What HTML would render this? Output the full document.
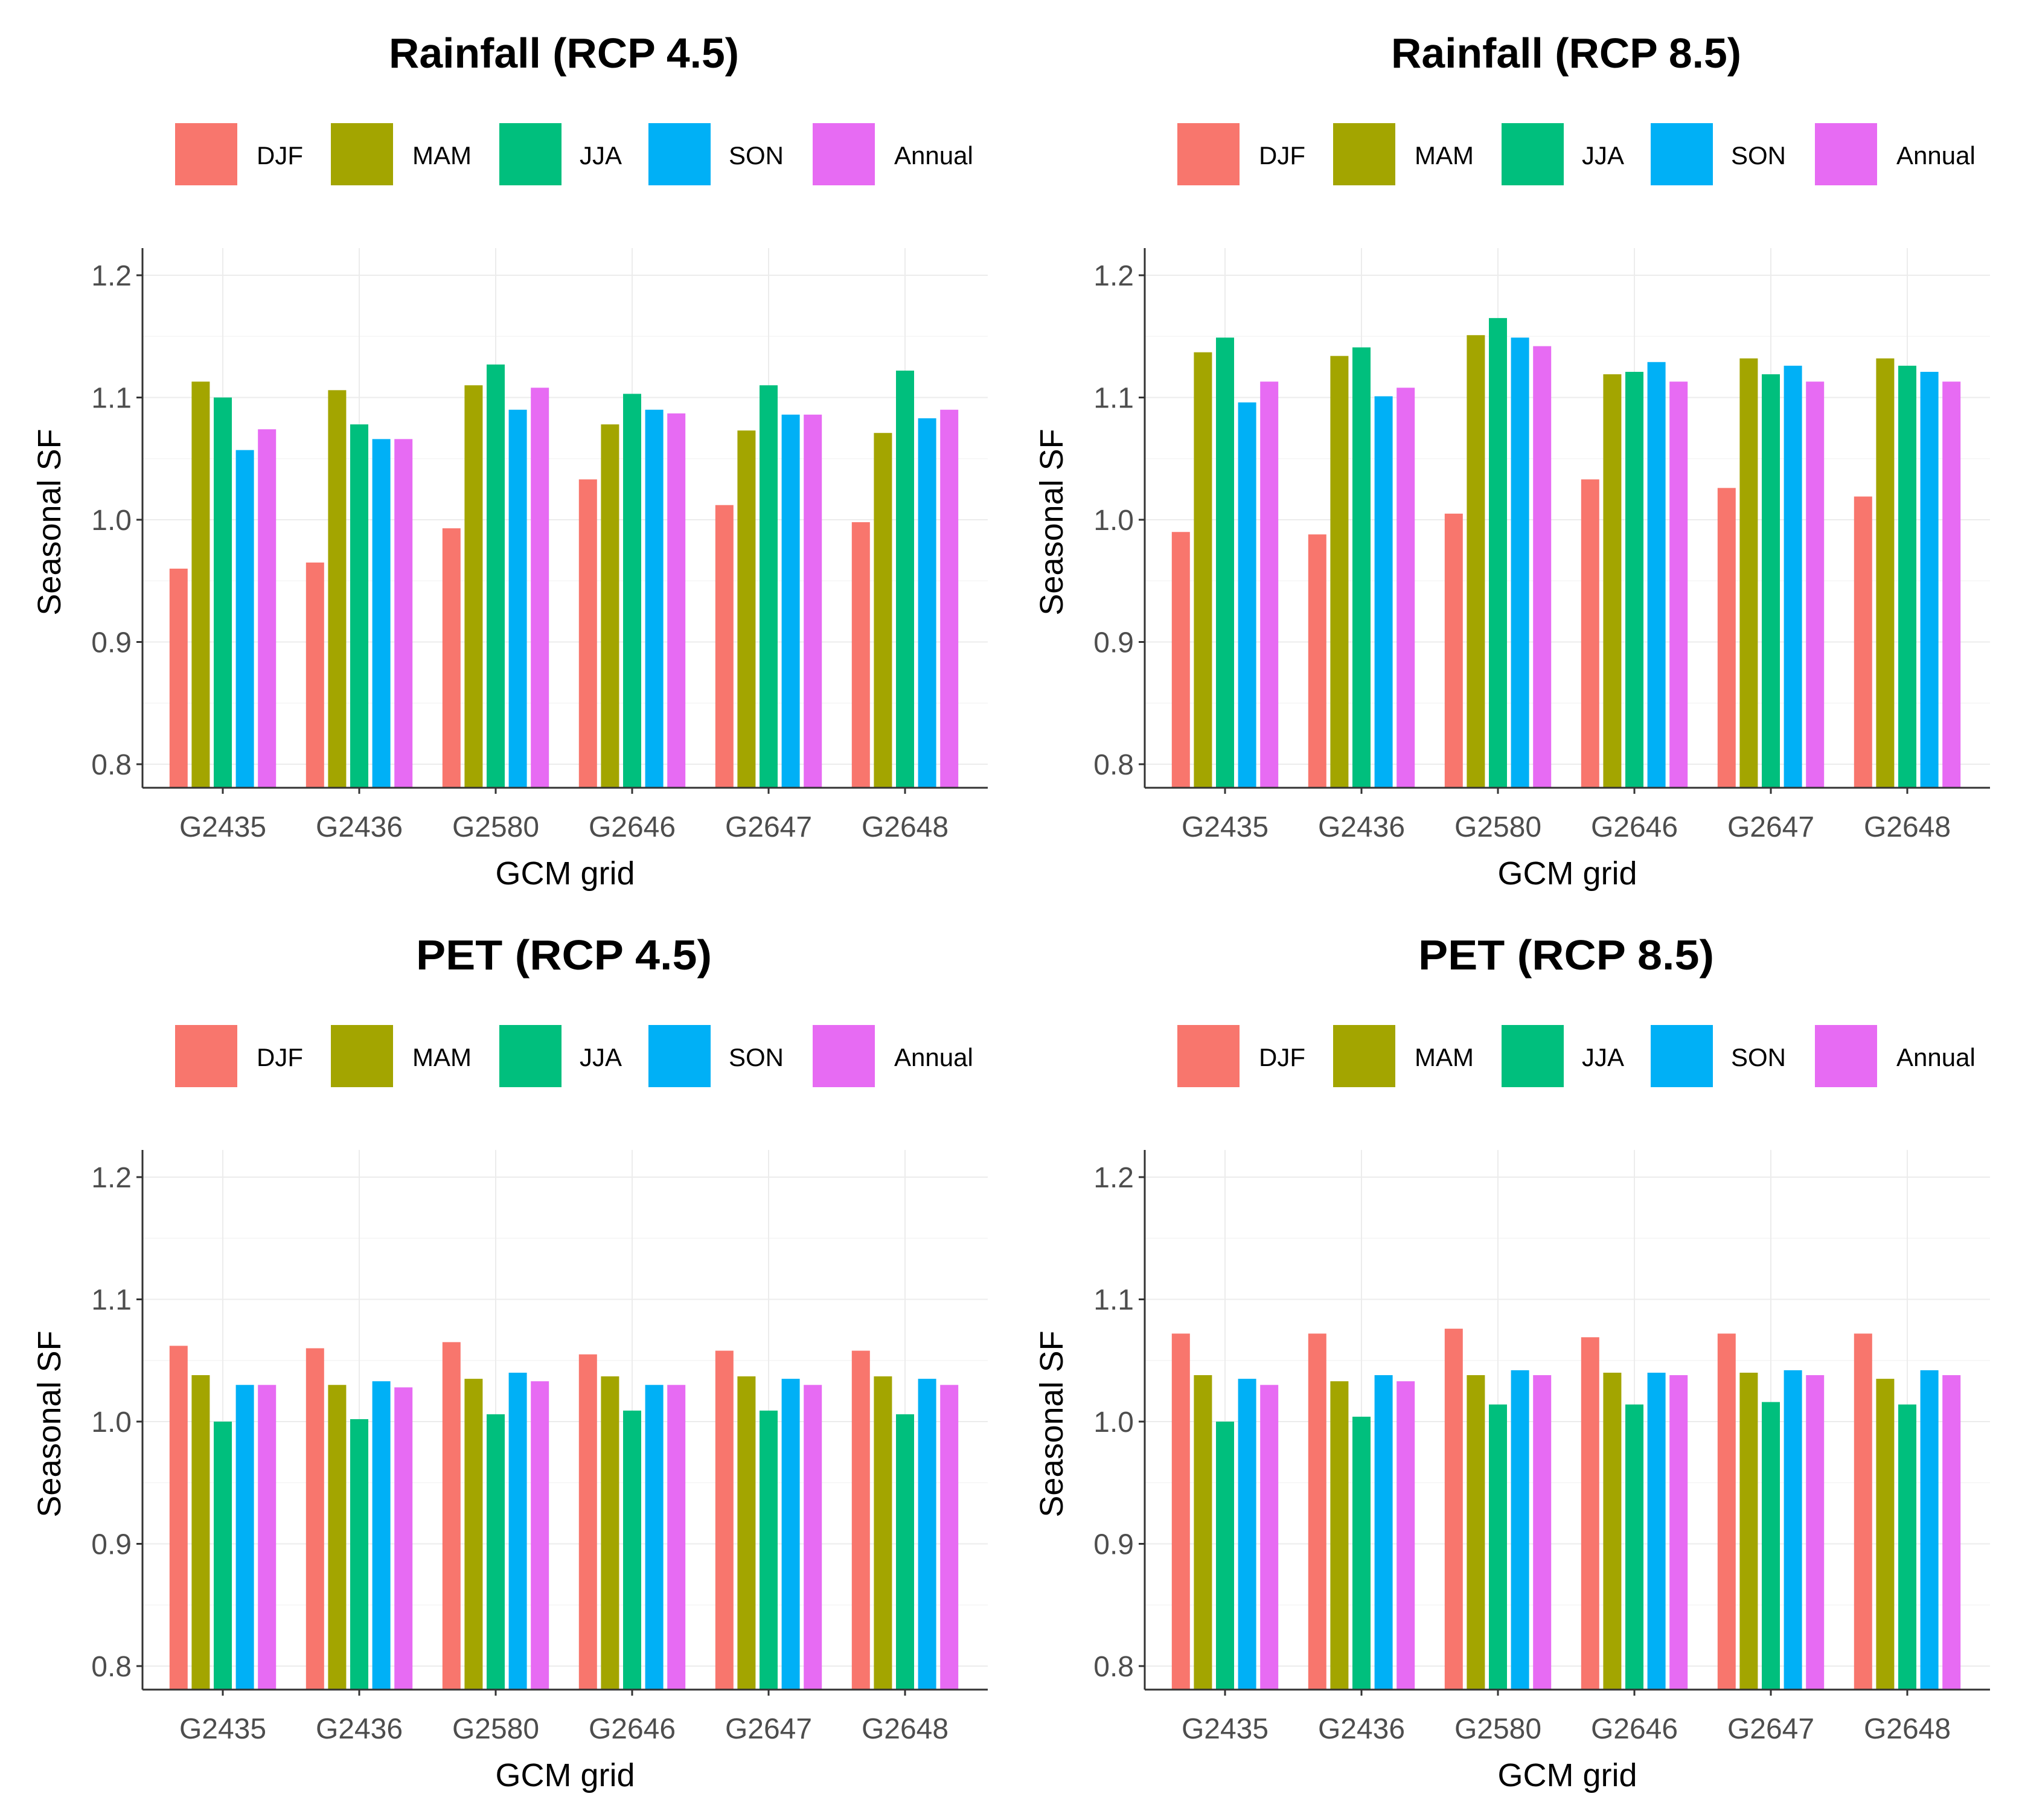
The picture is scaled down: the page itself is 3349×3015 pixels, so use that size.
<!DOCTYPE html>
<html><head><meta charset="utf-8"><style>
body{margin:0;background:#fff}
svg{display:block;font-family:"Liberation Sans",Arial,sans-serif}
</style></head><body>
<svg id="chart" width="3349" height="3015" viewBox="0 0 3349 3015" xmlns="http://www.w3.org/2000/svg"></svg>
<script>
const categories = ["G2435","G2436","G2580","G2646","G2647","G2648"];
const seasons = ["DJF","MAM","JJA","SON","Annual"];
const colors = ["#F8766D","#A3A500","#00BF7D","#00B0F6","#E76BF3"];
const yTicks = [0.8,0.9,1.0,1.1,1.2];
const yTickLabels = ["0.8","0.9","1.0","1.1","1.2"];
const panelTitles = ["Rainfall (RCP 4.5)","Rainfall (RCP 8.5)","PET (RCP 4.5)","PET (RCP 8.5)"];
const rain45 = [[0.960,1.113,1.100,1.057,1.074],[0.965,1.106,1.078,1.066,1.066],[0.993,1.110,1.127,1.090,1.108],[1.033,1.078,1.103,1.090,1.087],[1.012,1.073,1.110,1.086,1.086],[0.998,1.071,1.122,1.083,1.090]];
const rain85 = [[0.990,1.137,1.149,1.096,1.113],[0.988,1.134,1.141,1.101,1.108],[1.005,1.151,1.165,1.149,1.142],[1.033,1.119,1.121,1.129,1.113],[1.026,1.132,1.119,1.126,1.113],[1.019,1.132,1.126,1.121,1.113]];
const pet45 = [[1.062,1.038,1.000,1.030,1.030],[1.060,1.030,1.002,1.033,1.028],[1.065,1.035,1.006,1.040,1.033],[1.055,1.037,1.009,1.030,1.030],[1.058,1.037,1.009,1.035,1.030],[1.058,1.037,1.006,1.035,1.030]];
const pet85 = [[1.072,1.038,1.000,1.035,1.030],[1.072,1.033,1.004,1.038,1.033],[1.076,1.038,1.014,1.042,1.038],[1.069,1.040,1.014,1.040,1.038],[1.072,1.040,1.016,1.042,1.038],[1.072,1.035,1.014,1.042,1.038]];
const panelData = [rain45, rain85, pet45, pet85];

const NS = "http://www.w3.org/2000/svg";
const svg = document.getElementById("chart");
function mk(tag, attrs, parent){const e=document.createElementNS(NS,tag);for(const k in attrs)e.setAttribute(k,attrs[k]);(parent||svg).appendChild(e);return e;}

const offsets = [[0,0],[1660,0],[0,1494],[1660,1494]];
const L=236, R=1636, B=1305, T=411;
const step = 226, c0 = 369;
function xScale(i){return c0 + i*step;}
function yScale(v){return 1266 - (v-0.8)*2025;}
const slot = 36.6, bw = 30;

panelData.forEach((data,p)=>{
  const [ox,oy]=offsets[p];
  const g = mk("g",{transform:`translate(${ox},${oy})`});
  
  
  const t = mk("text",{x:934,y:112,"text-anchor":"middle","font-size":70,"font-weight":"bold",fill:"#000",textLength:580,lengthAdjust:"spacingAndGlyphs"},g);
  if(p>=2){t.setAttribute('textLength','490');}
  t.textContent = panelTitles[p];
  
  
  const keyX=[290,548,827,1074,1346], labX=[425,683,960,1207,1481];
  seasons.forEach((s,k)=>{
    const r = mk("rect",{x:keyX[k],y:204,width:103,height:103,fill:colors[k]},g);
    
    
    const lt = mk("text",{x:labX[k],y:272,"font-size":42,fill:"#000"},g);
    lt.textContent = s;
    
    
  });
  yTicks.forEach((v,j)=>{
    const gl = mk("line",{x1:L,x2:R,y1:yScale(v),y2:yScale(v),stroke:"#ececec","stroke-width":2},g);
    
    
    if(j<yTicks.length-1){
      const mg = mk("line",{x1:L,x2:R,y1:yScale(v+0.05),y2:yScale(v+0.05),stroke:"#f5f5f5","stroke-width":1.5},g);
      
      
    }
    const tk = mk("line",{x1:L-10,x2:L,y1:yScale(v),y2:yScale(v),stroke:"#333","stroke-width":3},g);
    
    
    const tl = mk("text",{x:L-18,y:yScale(v)+17,"text-anchor":"end","font-size":48,fill:"#4d4d4d"},g);
    tl.textContent = yTickLabels[j];
    
    
  });
  categories.forEach((c,i)=>{
    const vl = mk("line",{x1:xScale(i),x2:xScale(i),y1:T,y2:B,stroke:"#ececec","stroke-width":2},g);
    
    
  });
  data.forEach((row,i)=>{
    row.forEach((v,k)=>{
      const cx = xScale(i) + (k-2)*slot;
      const y = yScale(v);
      const b = mk("rect",{x:cx-bw/2,y:y,width:bw,height:B-y,fill:colors[k]},g);
      
      
    });
  });
  const ya = mk("line",{x1:L,x2:L,y1:T,y2:B,stroke:"#333","stroke-width":3},g);
  
  
  const xa = mk("line",{x1:L,x2:R,y1:B,y2:B,stroke:"#333","stroke-width":3},g);
  
  
  categories.forEach((c,i)=>{
    const tk = mk("line",{x1:xScale(i),x2:xScale(i),y1:B,y2:B+10,stroke:"#333","stroke-width":3},g);
    
    
    const tl = mk("text",{x:xScale(i),y:1386,"text-anchor":"middle","font-size":48,fill:"#4d4d4d"},g);
    tl.textContent = c;
    
    
  });
  const xt = mk("text",{x:936,y:1465,"text-anchor":"middle","font-size":54,fill:"#000"},g);
  xt.textContent = "GCM grid";
  
  
  const yt = mk("text",{x:0,y:0,"text-anchor":"middle","font-size":54,fill:"#000",transform:"translate(100,865) rotate(-90)"},g);
  yt.textContent = "Seasonal SF";
  
  
});
</script>
</body></html>
